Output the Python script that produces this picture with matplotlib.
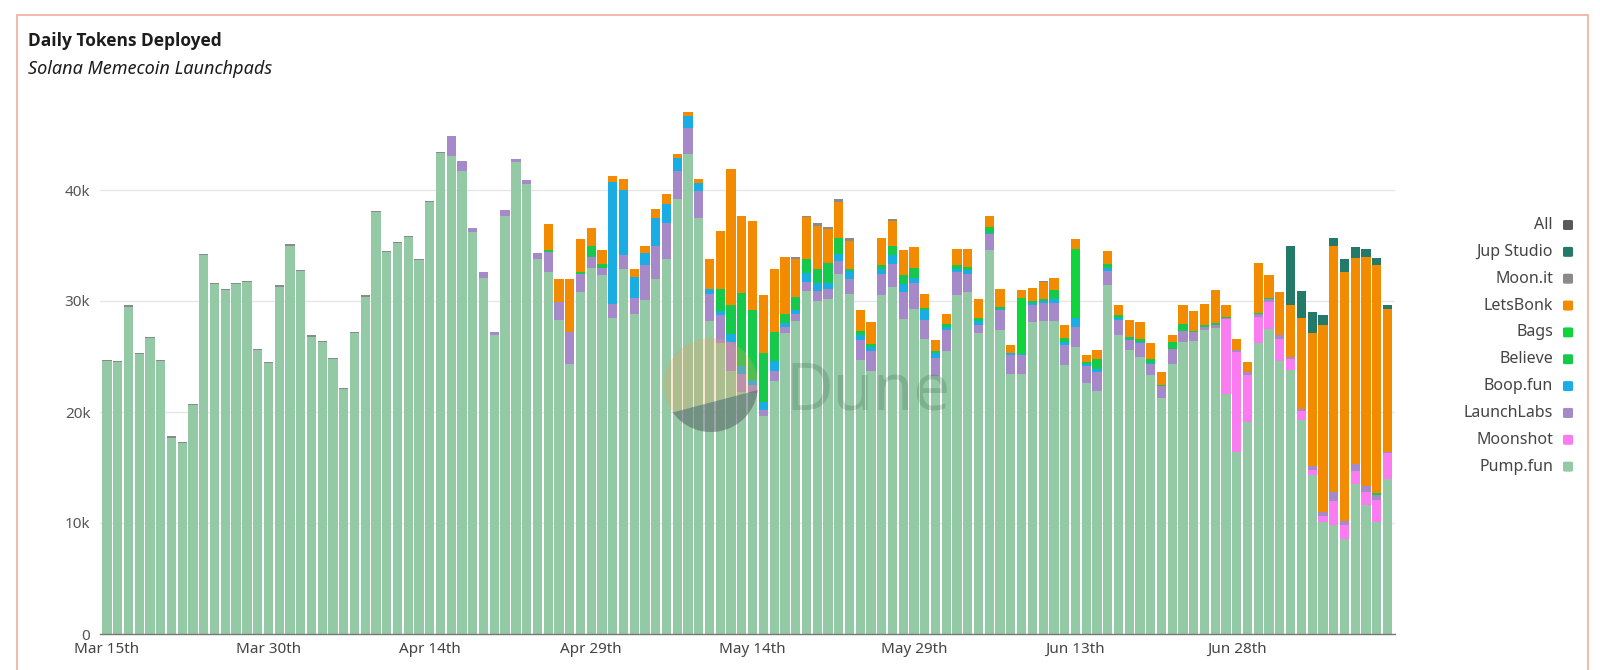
import matplotlib
matplotlib.use("Agg")
import matplotlib.pyplot as plt
from matplotlib.patches import FancyBboxPatch, Rectangle, Circle, Polygon
from matplotlib import font_manager
import numpy as np
import pandas as pd

# ---------------- data (thousands of tokens per day) ----------------
dates = pd.date_range("2025-03-15", periods=120, freq="D")
tick_dates = ["2025-03-15", "2025-03-30", "2025-04-14", "2025-04-29",
              "2025-05-14", "2025-05-29", "2025-06-13", "2025-06-28"]
tick_labels = ["Mar 15th", "Mar 30th", "Apr 14th", "Apr 29th",
               "May 14th", "May 29th", "Jun 13th", "Jun 28th"]
y_ticks = [0, 10, 20, 30, 40]
y_tick_labels = ["0", "10k", "20k", "30k", "40k"]

pump_fun = [
    24.6, 24.5, 29.5, 25.2, 26.7, 24.6, 17.7, 17.2, 20.6, 34.1,
    31.5, 31.0, 31.5, 31.7, 25.6, 24.4, 31.3, 35.0, 32.7, 26.8,
    26.3, 24.8, 22.1, 27.1, 30.4, 38.0, 34.4, 35.2, 35.8, 33.7,
    38.9, 43.3, 43.1, 41.7, 36.2, 32.1, 26.9, 37.7, 42.5, 40.5,
    33.8, 32.6, 28.3, 24.3, 30.8, 33.0, 32.3, 28.5, 32.9, 28.8,
    30.1, 32.0, 33.8, 39.2, 43.2, 37.5, 28.2, 26.2, 23.7, 21.8,
    21.7, 19.6, 22.8, 27.1, 28.2, 30.9, 30.0, 30.2, 32.4, 30.6,
    24.7, 23.7, 30.5, 31.3, 28.4, 29.3, 26.6, 23.2, 25.5, 30.5,
    30.8, 27.1, 34.6, 27.4, 23.4, 23.4, 28.1, 28.2, 28.2, 24.2,
    25.9, 22.6, 21.9, 31.4, 26.9, 25.6, 25.0, 23.3, 21.3, 24.3,
    26.3, 26.4, 27.4, 27.6, 21.6, 16.4, 19.1, 26.2, 27.5, 24.6,
    23.8, 19.3, 14.3, 10.1, 9.8, 8.6, 13.5, 11.6, 10.1, 14.0]

moonshot = [0.0] * 104 + [
    6.8, 9.0, 4.2, 2.4, 2.4, 2.0, 1.0, 0.8, 0.5, 0.5,
    2.2, 1.2, 1.2, 1.2, 2.0, 2.3]

launchlabs = [0.0] * 32 + [
    1.8, 0.9, 0.4, 0.5, 0.3, 0.5, 0.3, 0.4, 0.5,
    1.8, 1.6, 2.9, 1.6, 1.0, 0.7, 1.2, 1.2, 1.5,
    3.1, 3.0, 3.2, 2.5, 2.4, 2.4, 2.4, 2.5, 2.6, 1.6,
    0.7, 0.6, 0.9, 0.6, 0.6, 0.8, 0.9, 0.9, 1.2, 1.4,
    1.8, 1.8, 1.9, 2.0, 2.4, 2.3, 1.7, 1.7, 1.9, 2.1,
    1.6, 0.7, 1.4, 1.8, 1.7, 1.7, 1.5, 1.6, 1.6, 1.8,
    1.8, 1.5, 1.7, 1.3, 1.4, 0.9, 1.2, 1.0, 1.0, 1.4,
    1.0, 0.8, 0.3, 0.2, 0.1, 0.2, 0.3, 0.2, 0.3, 0.3,
    0.2, 0.2, 0.3, 0.4, 0.8, 0.4, 0.6, 0.5, 0.4, 0.1]

boop_fun = [0.0] * 47 + [
    11.0, 5.9, 1.9,
    1.1, 2.5, 1.7, 1.2, 1.1, 0.7, 0.5, 0.4, 0.7, 0.7,
    0.5, 0.7, 0.9, 0.3, 0.4, 0.8, 0.7, 0.5, 0.6, 0.7,
    0.4, 0.4, 0.5, 0.8, 0.7, 0.5, 0.9, 0.4, 0.3, 0.3,
    0.4, 0.4, 0.1, 0.1, 0.2, 0.1, 0.2, 0.2, 0.4, 0.3,
    0.8, 0.2, 0.3, 0.3, 0.2, 0.1, 0.1, 0.1] + [0.0] * 22

believe = [0.0] * 41 + [
    0.2, 0.0, 0.0, 0.2, 1.0, 0.3, 0.0, 0.0, 0.0,
    0.0, 0.0, 0.0, 0.0, 0.0, 0.0, 0.0, 2.0, 2.6, 6.6,
    6.3, 4.4, 2.6, 0.8, 1.2, 1.3, 1.3, 1.8, 1.5, 0.2,
    0.4, 0.2, 0.3, 0.9, 0.8, 0.9, 0.2, 0.2, 0.2, 0.3,
    0.3, 0.3, 0.6, 0.2, 0.0, 0.0, 0.2, 0.2, 0.8, 0.4,
    0.0, 0.2, 0.9, 0.3, 0.2, 0.2, 0.3, 0.4, 0.1, 0.6,
    0.6, 0.1, 0.1, 0.2, 0.1, 0.0, 0.0, 0.1, 0.1, 0.0,
    0.0, 0.0, 0.0, 0.0, 0.0, 0.0, 0.0, 0.0, 0.2, 0.0]

bags = [0.0] * 85 + [5.1, 0.0, 0.0, 0.0, 0.0, 6.2] + [0.0] * 29

letsbonk = [0.0] * 41 + [
    2.3, 2.1, 4.8, 3.0, 1.6, 1.3, 0.6, 1.0, 0.7,
    0.7, 0.8, 0.9, 0.3, 0.3, 0.4, 2.7, 5.2, 12.3, 7.0,
    8.0, 5.2, 5.7, 5.2, 3.4, 3.8, 3.9, 3.1, 3.2, 2.5,
    1.9, 2.0, 2.5, 2.2, 2.3, 1.9, 1.2, 1.0, 0.9, 1.5,
    1.6, 1.7, 1.0, 1.6, 0.7, 0.7, 1.2, 1.5, 1.1, 1.1,
    0.9, 0.6, 0.8, 1.2, 0.9, 1.5, 1.5, 1.4, 1.2, 0.6,
    1.7, 1.8, 1.9, 3.0, 1.0, 1.0, 0.9, 4.5, 2.0, 3.9,
    4.6, 8.2, 12.0, 16.8, 22.2, 22.4, 18.6, 20.7, 20.5, 12.9]

moon_it = [0.1] * 32 + [0.0] * 32 + [
    0.2, 0.1, 0.2, 0.2, 0.3, 0.3, 0.0, 0.0, 0.0, 0.2] + [0.0] * 13 + [0.1] + [0.0] * 32

jup_studio = [0.0] * 110 + [5.4, 2.4, 1.9, 0.9, 0.7, 1.2, 1.0, 0.7, 0.7, 0.3]

all_series = [0.0] * 120

# stacking order bottom -> top
series = [
    ("Pump.fun", pump_fun, "#93c9a4"),
    ("Moonshot", moonshot, "#fb7cf0"),
    ("LaunchLabs", launchlabs, "#a689c9"),
    ("Boop.fun", boop_fun, "#1aade3"),
    ("Believe", believe, "#17c94b"),
    ("Bags", bags, "#10d43b"),
    ("LetsBonk", letsbonk, "#f28b00"),
    ("Moon.it", moon_it, "#8a8a8a"),
    ("Jup Studio", jup_studio, "#247a68"),
    ("All", all_series, "#595959"),
]

W, H = 1600, 670
fig = plt.figure(figsize=(W / 100, H / 100), dpi=100)
fig.patch.set_facecolor("white")
FONT = ["Noto Sans", "DejaVu Sans"]


def pick_bold_family():
    # choose an installed family that really has a bold face
    for fam in ["Open Sans", "Lato", "Inter", "Roboto", "Liberation Sans", "DejaVu Sans"]:
        for f in font_manager.fontManager.ttflist:
            if f.name == fam and (f.weight in (600, 700, "bold", "semibold") or
                                  (isinstance(f.weight, int) and f.weight >= 600)):
                return fam
    return "DejaVu Sans"


BOLD_FAM = pick_bold_family()


def fx(px):
    return px / W


def fy(py):
    return 1 - py / H


# plot area: x 100..1395 px, y 0 at 634 px, 10k = 111 px
ymax = 47.5
top_px = 634 - 11.1 * ymax
ax = fig.add_axes([fx(100), fy(634), fx(1295), (634 - top_px) / H])

x = np.arange(len(dates))
bottom = np.zeros(len(dates))
for name, vals, col in series:
    v = np.array(vals, dtype=float)
    ax.bar(x, v, bottom=bottom, width=0.86, color=col, linewidth=0, zorder=2)
    bottom += v

ax.set_xlim(-0.65, 119.7)
ax.set_ylim(0, ymax)
ax.set_yticks(y_ticks)
ax.set_yticklabels(y_tick_labels, fontfamily=FONT, fontsize=11, color="#555555")
tick_pos = [dates.get_loc(pd.Timestamp(d)) for d in tick_dates]
ax.set_xticks(tick_pos)
ax.set_xticklabels(tick_labels, fontfamily=FONT, fontsize=11, color="#444444")
ax.tick_params(axis="both", length=0)
ax.tick_params(axis="y", pad=7)
ax.tick_params(axis="x", pad=6)
ax.grid(axis="y", color="#e6e6e6", linewidth=1, zorder=0)
ax.set_axisbelow(True)
for s in ["top", "right", "left"]:
    ax.spines[s].set_visible(False)
ax.spines["bottom"].set_color("#777777")
ax.spines["bottom"].set_linewidth(1)
ax.spines["bottom"].set_zorder(3)
ax.patch.set_alpha(0)

# border frame
fig.add_artist(Rectangle((fx(17), fy(720)), fx(1571), (720 - 15) / H,
                         transform=fig.transFigure, fill=False,
                         edgecolor="#f2b2a4", linewidth=1.3))

# titles
fig.text(fx(28), fy(46.5), "Daily Tokens Deployed", fontfamily=[BOLD_FAM, "DejaVu Sans"],
         fontsize=12.5, fontweight="bold", color="#1c1c1c", va="baseline")
fig.text(fx(28), fy(73.5), "Solana Memecoin Launchpads", fontfamily=FONT,
         fontsize=13, fontstyle="italic", color="#1c1c1c", va="baseline")

# legend (top -> bottom)
legend_order = ["All", "Jup Studio", "Moon.it", "LetsBonk", "Bags",
                "Believe", "Boop.fun", "LaunchLabs", "Moonshot", "Pump.fun"]
colors = {n: c for n, _, c in series}
for i, name in enumerate(legend_order):
    yc = 225 + i * 26.85
    fig.text(fx(1553), fy(yc), name, fontfamily=FONT, fontsize=11.5,
             color="#444444", ha="right", va="center")
    fig.add_artist(FancyBboxPatch((fx(1563), fy(yc + 5)), fx(10), 10 / H,
                                  boxstyle="round,pad=0,rounding_size=0.0015",
                                  transform=fig.transFigure,
                                  facecolor=colors[name], edgecolor="none"))

# Dune watermark
wax = fig.add_axes([fx(664), fy(432), fx(94), 94 / H])
wax.set_xlim(0, 1)
wax.set_ylim(0, 1)
wax.axis("off")
circ = Circle((0.5, 0.5), 0.5, facecolor="#f0a35a", alpha=0.28, edgecolor="none")
wax.add_patch(circ)
low = Polygon([(-0.05, 0.17), (1.05, 0.46), (1.05, -0.05), (-0.05, -0.05)],
              closed=True, facecolor="#2e5b76", alpha=0.45, edgecolor="none")
wax.add_patch(low)
low.set_clip_path(circ)
fig.text(fx(786), fy(410), "Dune", fontfamily=FONT, fontsize=47,
         color="#2d4a3e", alpha=0.2, va="baseline")

fig.savefig("out.png", dpi=100, facecolor="white")
